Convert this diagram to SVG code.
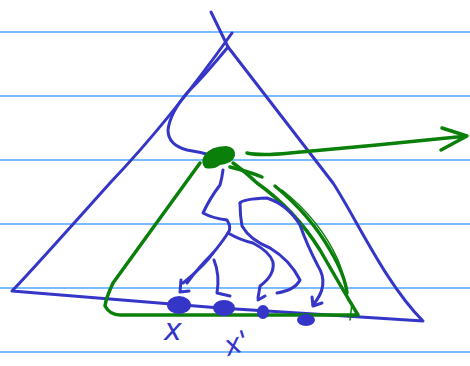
<svg xmlns="http://www.w3.org/2000/svg" width="470" height="366" viewBox="0 0 470 366">
<style>
.rule{stroke:#4da6ff;stroke-width:1.3;fill:none}
.b{stroke:#3535c8;stroke-width:3;fill:none;stroke-linecap:round;stroke-linejoin:round}
.g{stroke:#0a800a;stroke-width:3.5;fill:none;stroke-linecap:round;stroke-linejoin:round}
.gt{stroke:#0a800a;stroke-width:1.5;fill:none;stroke-linecap:round}
.lbl{font-family:"DejaVu Sans","Liberation Sans",sans-serif;fill:#3535c8;font-style:italic}
</style>
<rect width="470" height="366" fill="#ffffff"/>
<g id="paper">
<line class="rule" x1="0" y1="32" x2="470" y2="32"/>
<line class="rule" x1="0" y1="96" x2="470" y2="96"/>
<line class="rule" x1="0" y1="160" x2="470" y2="160"/>
<line class="rule" x1="0" y1="224" x2="470" y2="224"/>
<line class="rule" x1="0" y1="288" x2="470" y2="288"/>
<line class="rule" x1="0" y1="352" x2="470" y2="352"/>
</g>
<g id="big-triangle">
<path class="b" d="M211,12 L228,47 L333,183 C356,218 385,283 423,321 L220,308 L12,291 Q25,278 110,183 Q170,120 232,33"/>
<path class="b" d="M228,47 Q205,75 187,93 Q170,113 168,130 Q168,145 187,150 Q200,152 210,155"/>
</g>
<g id="green-node">
<path fill="#0a800a" d="M204,156 Q210,146 226,146 Q236,147 235,156 Q232,164 220,165 Q214,170 205,168 Q200,162 204,156 Z"/>
</g>
<g id="green-inner">
<path class="g" d="M200,163 L113,283 Q106,298 105,306 Q110,315 120,315 L358,315 Q340,285 320,250 Q295,210 257,183 Q243,170 233,163"/>
<path class="g" d="M230,167 Q250,172 262,177"/>
<path class="g" d="M275,186 Q310,215 330,250 Q345,275 347,293"/>
<path class="gt" d="M282,190 Q320,220 338,260 Q346,280 348,300"/>
<path class="gt" d="M352,303 L350,320"/>
<path class="g" d="M247,153 Q260,156 290,153 Q380,145 467,136 M442,128 L467,136 L441,150"/>
</g>
<g id="blue-arrows">
<path class="b" d="M223,170 Q222,178 220,185 Q210,198 203,213 Q212,218 227,220 Q232,228 228,233 Q220,245 213,253 Q198,268 187,283"/>
<path class="b" d="M181,280 L180,292 L189,291"/>
<path class="b" d="M213,253 Q205,265 183,283"/>
<path class="b" d="M214,260 Q220,275 217,293 L230,296"/>
<path class="b" d="M228,233 Q240,240 253,243 Q270,252 273,262 Q275,275 260,286 L258,298"/>
<path class="b" d="M258,300 L265,296"/>
<path class="b" d="M240,203 Q243,199 267,198 Q288,205 300,225 Q307,245 318,266 Q330,285 313,305"/>
<path class="b" d="M312,297 L313,306 L322,303"/>
<path class="b" d="M240,203 Q240,215 242,226 Q250,240 270,248 Q290,260 300,280 Q295,290 277,293"/>
</g>
<g id="points">
<ellipse cx="179" cy="305" rx="12" ry="9" fill="#3535c8"/>
<ellipse cx="224" cy="308" rx="11" ry="8" fill="#3535c8"/>
<ellipse cx="263" cy="312" rx="6" ry="7" fill="#3535c8"/>
<ellipse cx="306" cy="320" rx="9" ry="6" fill="#3535c8"/>
<text class="lbl" x="164" y="340" font-size="30">x</text>
<text class="lbl" x="224" y="353" font-size="28" transform="rotate(-18 236 343)">x'</text>
</g>
</svg>
